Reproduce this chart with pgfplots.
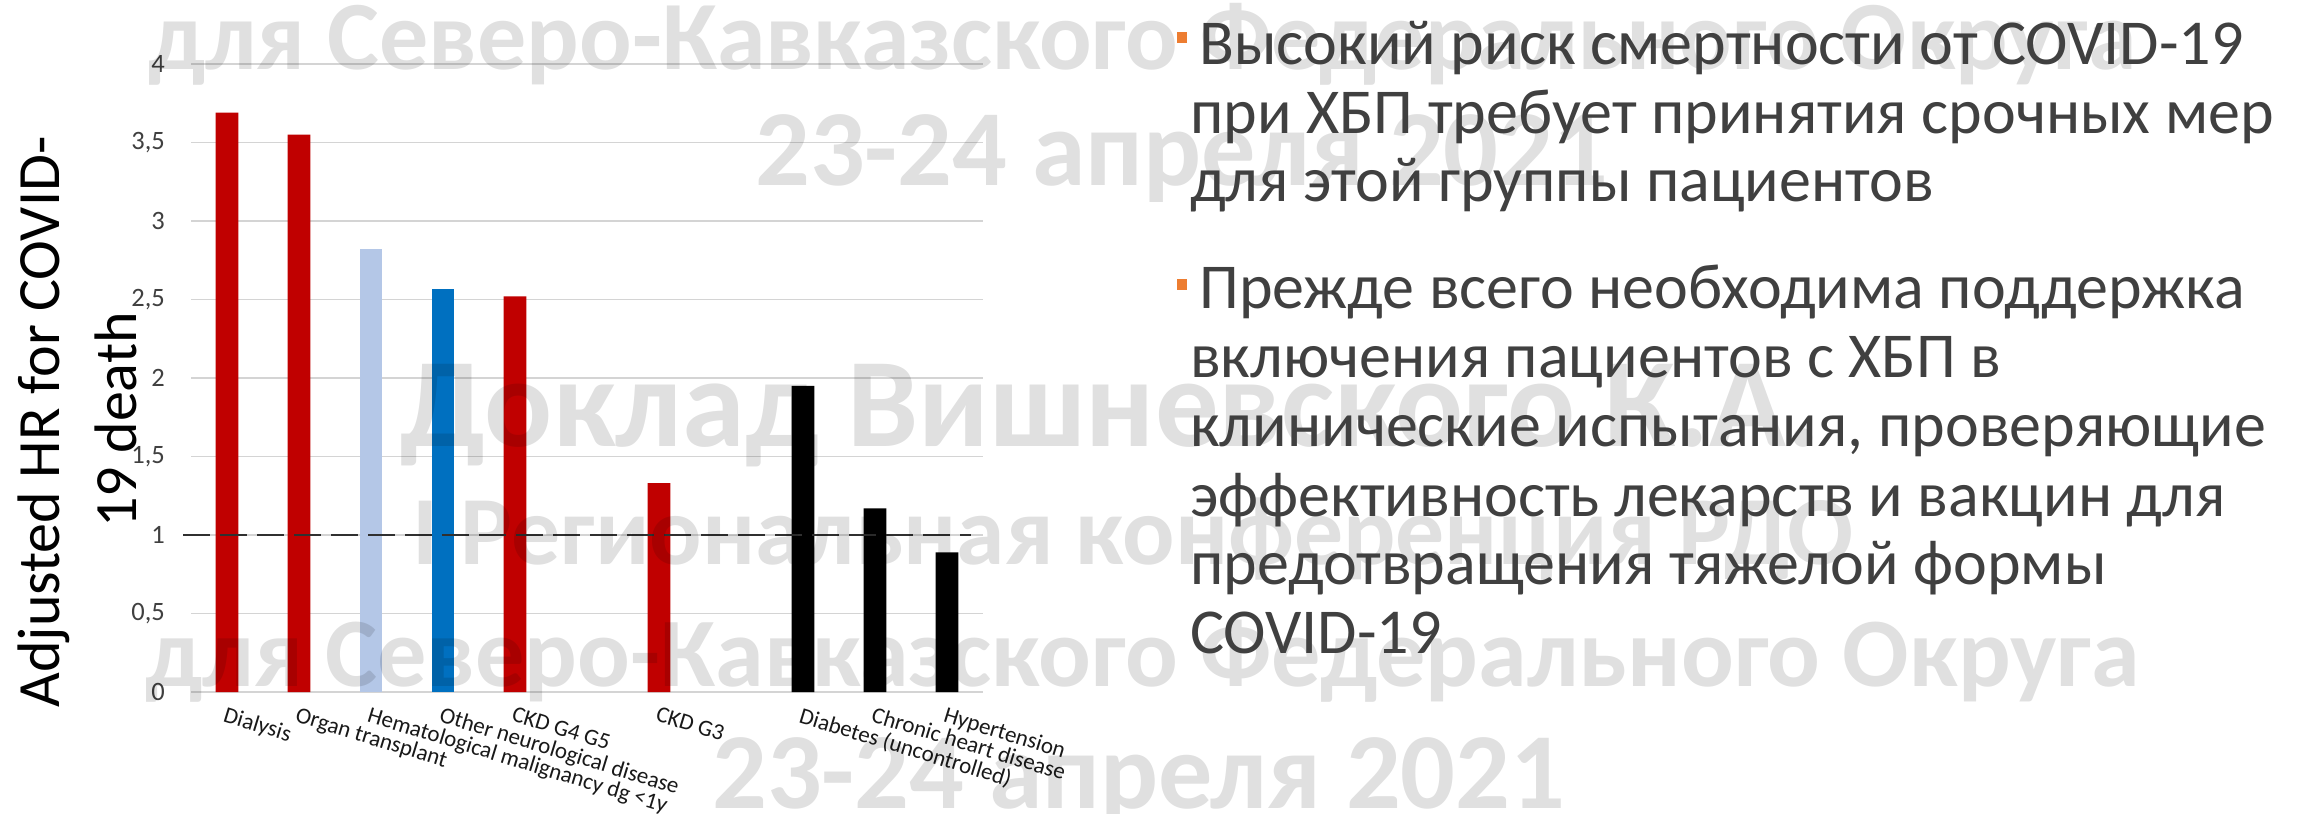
\documentclass[border=0pt]{standalone}
\usepackage{fontspec}
\setmainfont{Carlito}
\usepackage{graphicx}
\usepackage{pgfplots}
\pgfplotsset{compat=1.18}
\definecolor{barred}{HTML}{C00000}
\definecolor{barlight}{HTML}{B4C7E7}
\definecolor{barblue}{HTML}{0070C0}
\definecolor{gridgray}{HTML}{D4D4D4}
\definecolor{tickgray}{HTML}{404040}
\definecolor{textgray}{HTML}{404040}
\definecolor{bulletorange}{HTML}{ED7D31}
\definecolor{dashcol}{HTML}{303030}
\begin{document}
\begin{tikzpicture}[x=1pt,y=1pt]
\useasboundingbox (0,0) rectangle (2303,814);
\fill[white] (0,0) rectangle (2303,814);
\begin{axis}[
  at={(191pt,122pt)}, anchor=south west,
  scale only axis, width=792pt, height=628pt,
  xmin=-0.5, xmax=10.5, ymin=0, ymax=4,
  clip=false,
  axis line style={draw=none},
  ymajorgrids, grid style={color=gridgray, line width=1.5pt},
  major tick length=0pt,
  ytick={0,0.5,1,1.5,2,2.5,3,3.5,4},
  yticklabels={0,{0,5},1,{1,5},2,{2,5},3,{3,5},4},
  yticklabel style={font=\fontsize{26.5}{30}\selectfont, text=tickgray, anchor=east, inner sep=0pt},
  yticklabel shift=26pt,
  xtick={0,1,2,3,4,6,8,9,10},
  xticklabels={Dialysis, Organ transplant, Hematological malignancy dg <1y, Other neurological disease, CKD G4 G5, CKD G3, Diabetes (uncontrolled), Chronic heart disease, Hypertension},
  xticklabel style={font=\fontsize{23}{26}\selectfont, text=black!90, anchor=north west, rotate=-17, inner sep=0pt},
  xticklabel shift=14pt,
]
\addplot[ybar, bar width=22.7pt, bar shift=0pt, fill=barred, draw=none] coordinates {(0,3.69) (1,3.55) (4,2.52) (6,1.33)};
\addplot[ybar, bar width=22.7pt, bar shift=0pt, fill=barlight, draw=none] coordinates {(2,2.82)};
\addplot[ybar, bar width=22.7pt, bar shift=0pt, fill=barblue, draw=none] coordinates {(3,2.57)};
\addplot[ybar, bar width=22.7pt, bar shift=0pt, fill=black, draw=none] coordinates {(8,1.95) (9,1.17) (10,0.89)};
\addplot[sharp plot, no markers, color=dashcol, line width=2.2pt, dash pattern=on 27pt off 10pt] coordinates {(-0.61,1) (10.33,1)};
\end{axis}
% y axis title
\node[rotate=90, anchor=base, inner sep=0pt, font=\fontsize{60}{72}\selectfont, text=black] at (59,392) {Adjusted HR for COVID-};
\node[rotate=90, anchor=base, inner sep=0pt, font=\fontsize{60}{72}\selectfont, text=black] at (136,394) {19 death};
% watermark
\begin{scope}[every node/.style={anchor=base west, inner sep=0pt, text=black, opacity=0.12, font=\bfseries}]
\node at (148,744) {\resizebox{1987pt}{!}{для Северо-Кавказского Федерального Округа}};
\node at (755,628) {\resizebox{853pt}{!}{23-24 апреля 2021}};
\node at (400,367) {\resizebox{1420pt}{!}{Доклад Вишневского К.А.}};
\node at (412,249) {\resizebox{1441pt}{!}{I Региональная конференция РДО}};
\node at (145,128) {\resizebox{1993pt}{!}{для Северо-Кавказского Федерального Округа}};
\node at (712,6) {\resizebox{853pt}{!}{23-24 апреля 2021}};
\end{scope}
% bullet text
\fill[bulletorange] (1177,771) rectangle (1187,782);
\fill[bulletorange] (1177,524) rectangle (1187,535);
\begin{scope}[every node/.style={anchor=base west, inner sep=0pt, text=textgray, font=\fontsize{64}{76}\selectfont}]
\node at (1199,749) {Высокий риск смертности от COVID-19};
\node at (1190,680) {при ХБП требует принятия срочных мер};
\node at (1190,612) {для этой группы пациентов};
\node at (1199,505) {Прежде всего необходима поддержка};
\node at (1190,436) {включения пациентов с ХБП в};
\node at (1190,367) {клинические испытания, проверяющие};
\node at (1190,297) {эффективность лекарств и вакцин для};
\node at (1190,229) {предотвращения тяжелой формы};
\node at (1190,160) {COVID-19};
\end{scope}
\end{tikzpicture}
\end{document}
